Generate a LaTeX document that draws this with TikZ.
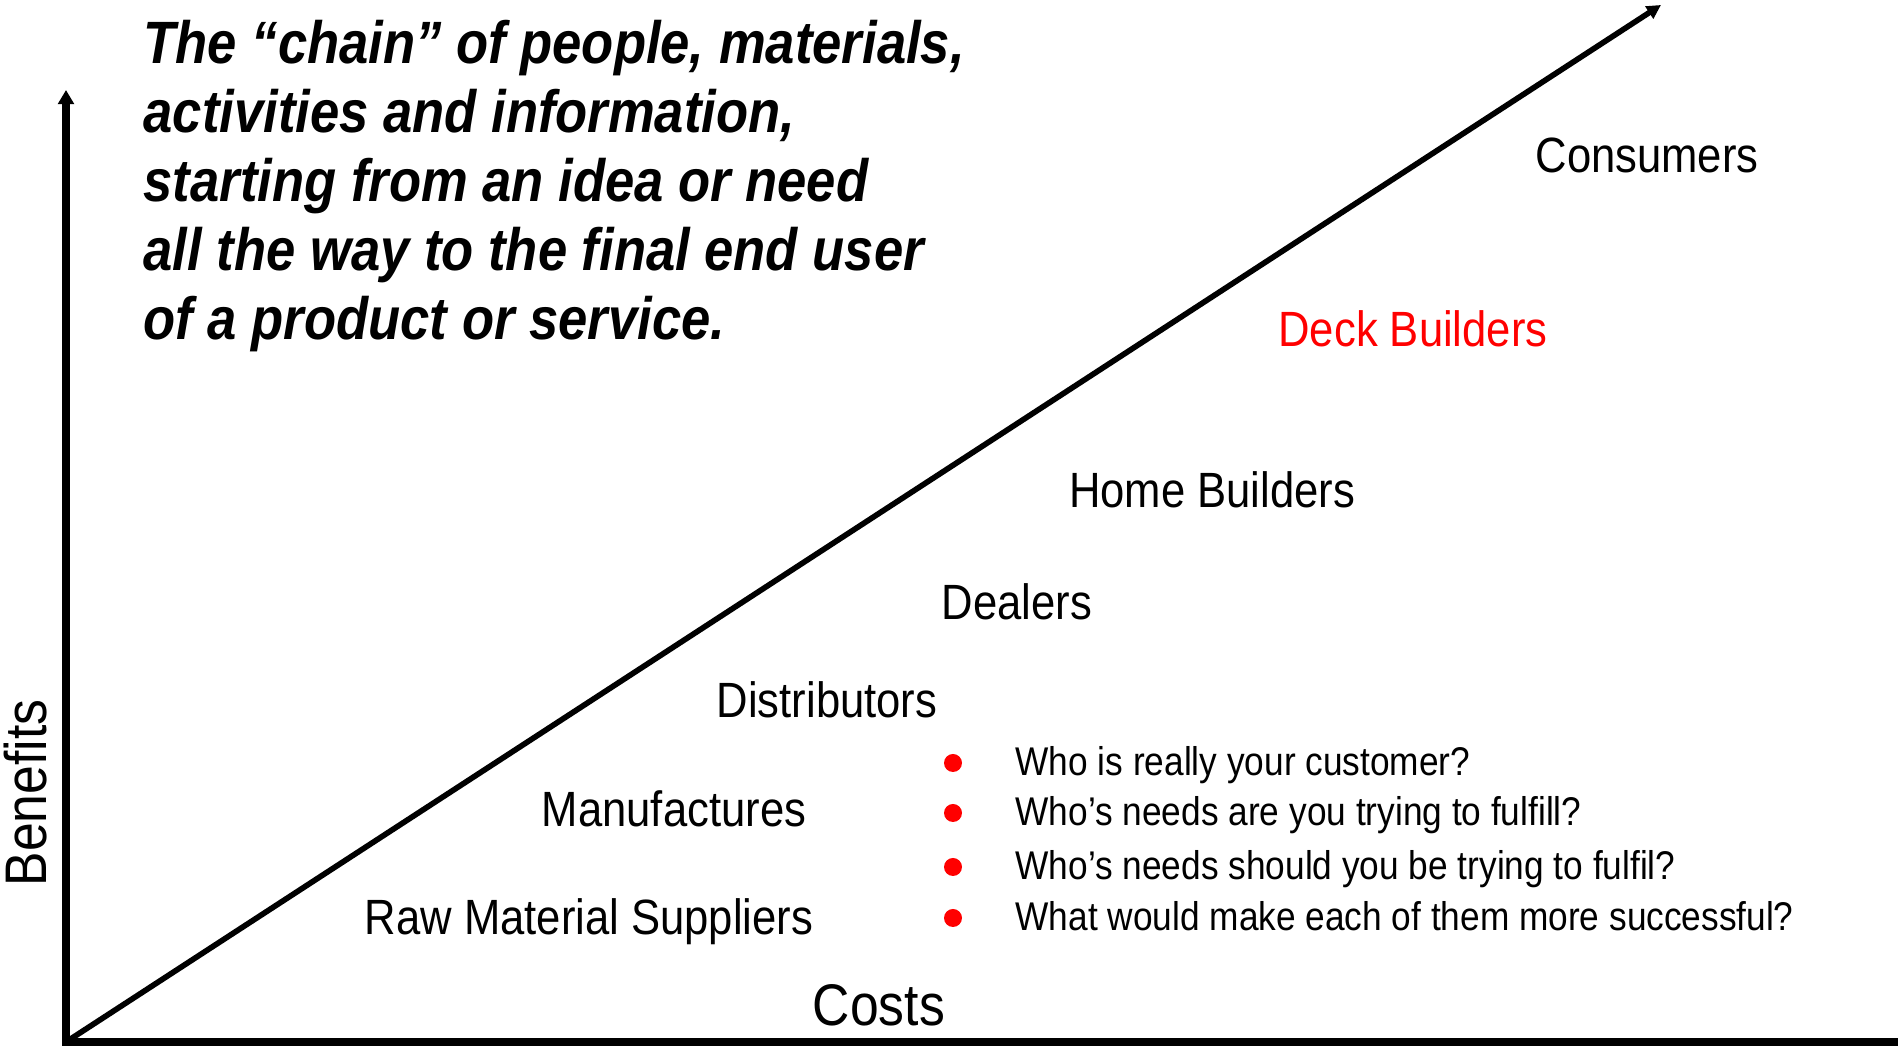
\documentclass[tikz,border=0pt]{standalone}
\usepackage{fontspec}
\setmainfont{Liberation Sans}[FakeStretch=0.88]
\usetikzlibrary{arrows.meta}

\tikzset{
  axis/.style={line width=2.2pt},
  link/.style={line width=1.6pt},
  headline/.style={font=\bfseries\itshape\fontsize{17}{19.6}\selectfont, align=left, inner sep=0pt},
  stage/.style={font=\fontsize{14.1}{16}\selectfont, inner sep=0pt},
  axislabel/.style={font=\fontsize{16.7}{19}\selectfont, inner sep=0pt},
  question/.style={font=\fontsize{11.4}{13}\selectfont, inner sep=0pt, anchor=base west},
  dot/.style={circle, fill=red, inner sep=0pt, minimum size=0.18cm},
}

\begin{document}
\begin{tikzpicture}
\useasboundingbox (0,0) rectangle (18.98,10.46);
% Axes
\coordinate (origin) at (0.66,0.04);
\coordinate (ytop) at (0.66,9.56);
\coordinate (xend) at (19.2,0.04);
\coordinate (top) at (16.61,10.41);
\draw [axis, {Triangle[length=4pt,width=4.4pt]}-] (ytop) -- (origin) -- (xend);
% Chain line
\draw [link, -{Triangle[length=4pt,width=4pt]}] (origin) -- (top);
% Axis names
\node [axislabel] (costs) at (8.79,0.41) {Costs};
\node [axislabel, rotate=90] (benefits) at (0.26,2.53) {Benefits};
% Definition
\node [headline, anchor=north west] (chain) at (1.43,10.26) {The “chain” of people, materials,\\activities and information,\\starting from an idea or need\\all the way to the final end user\\of a product or service.};
% Links of the chain
\node [stage] (consumers) at (16.47,8.91) {Consumers};
\node [stage, text=red] (deck) at (14.13,7.17) {Deck Builders};
\node [stage] (home) at (12.12,5.56) {Home Builders};
\node [stage] (dealers) at (10.17,4.44) {Dealers};
\node [stage] (distributors) at (8.27,3.46) {Distributors};
\node [stage] (makers) at (6.74,2.37) {Manufactures};
\node [stage] (suppliers) at (5.89,1.24) {Raw Material Suppliers};
% Questions
\node [dot] (d1) at (9.53,2.83) {};
\node [dot] (d2) at (9.53,2.33) {};
\node [dot] (d3) at (9.53,1.79) {};
\node [dot] (d4) at (9.53,1.28) {};
\node [question] (q1) at (10.15,2.70) {Who is really your customer?};
\node [question] (q2) at (10.15,2.20) {Who’s needs are you trying to fulfill?};
\node [question] (q3) at (10.15,1.66) {Who’s needs should you be trying to fulfil?};
\node [question] (q4) at (10.15,1.15) {What would make each of them more successful?};
\end{tikzpicture}
\end{document}
